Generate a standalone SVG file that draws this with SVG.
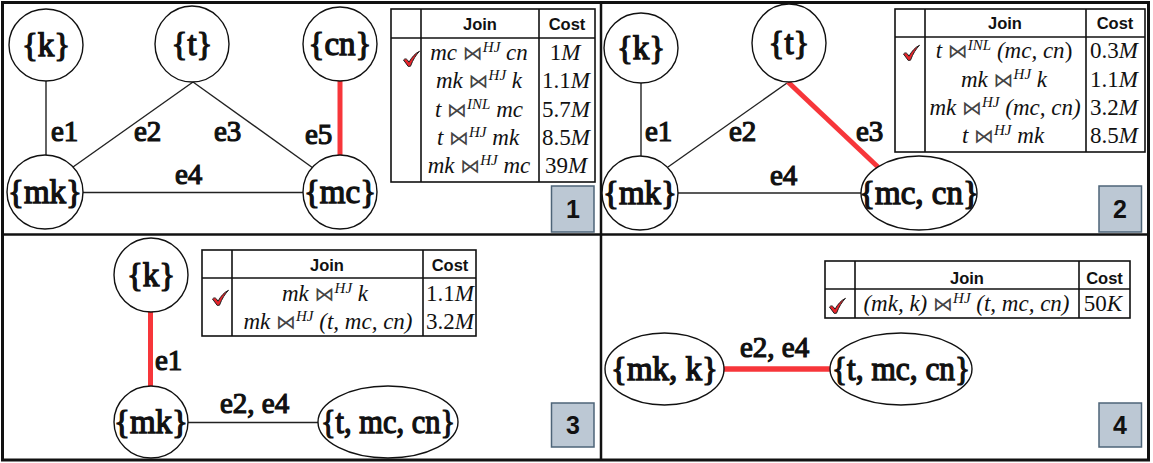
<svg xmlns="http://www.w3.org/2000/svg" width="1153" height="463" viewBox="0 0 1153 463">
<defs>
<style>
.frame{fill:none;stroke:#111;stroke-width:3}
.div{stroke:#111;stroke-width:2.5}
.node{fill:#fff;stroke:#111;stroke-width:1.4}
.nl{font-family:'Liberation Serif','Times New Roman',serif;font-weight:normal;font-size:33px;fill:#111;stroke:#111;stroke-width:1.3;text-anchor:middle}
.el{font-family:'Liberation Serif','Times New Roman',serif;font-weight:normal;font-size:29px;fill:#111;stroke:#111;stroke-width:1.2}
.edge{stroke:#222;stroke-width:1.4;fill:none}
.hot{stroke:#f7363a;stroke-width:5;fill:none}
.tb{fill:#fff;stroke:#111;stroke-width:1.6}
.tl{stroke:#111;stroke-width:1.6}
.th{font-family:'Liberation Sans',Arial,sans-serif;font-weight:bold;font-size:16.5px;fill:#111;text-anchor:middle}
.mx{font-family:'Liberation Serif','Times New Roman',serif;font-style:italic;font-size:23px;fill:#111;text-anchor:middle}
.bt{font-family:'DejaVu Sans',sans-serif;font-style:normal;font-size:20px;fill:#444}
.sp{font-size:15px}
.up{font-style:normal}
.badge{fill:#bcc8d4;stroke:#4d6478;stroke-width:1.5}
.bn{font-family:'Liberation Sans',Arial,sans-serif;font-weight:bold;font-size:25px;fill:#111;text-anchor:middle}
.chk{fill:#e8242a;stroke:#222;stroke-width:1;stroke-linejoin:round}
</style>
<path id="check" d="M0.5,9 C1.6,7.6 3.2,7.5 4.3,8.8 L6,11.2 C8.8,6.2 12.2,2.2 16.5,0.3 C13,3.8 10,8.6 7.5,15.2 L5.2,15.4 Z"/>
</defs>
<rect x="0" y="0" width="1153" height="463" fill="#fff"/>

<g id="frame">
<rect class="frame" x="2.5" y="2.5" width="1146" height="457.5"/>
<line class="div" x1="601" y1="2" x2="601" y2="461"/>
<line class="div" x1="2" y1="234.5" x2="1150" y2="234.5"/>
</g>

<g id="connectors">
<line class="edge" x1="46" y1="81" x2="46" y2="155"/>
<line class="edge" x1="73" y1="167" x2="193" y2="82"/>
<line class="edge" x1="193" y1="82" x2="313" y2="168"/>
<line class="edge" x1="83" y1="192.5" x2="303" y2="192.5"/>
<line class="hot" x1="340" y1="81" x2="340" y2="155"/>

<line class="edge" x1="641" y1="83" x2="641" y2="156"/>
<line class="edge" x1="668" y1="167" x2="787" y2="83"/>
<line class="hot" x1="788" y1="82" x2="878" y2="167"/>
<line class="edge" x1="678" y1="193" x2="861" y2="193"/>

<line class="hot" x1="150.5" y1="311" x2="150.5" y2="386"/>
<line class="edge" x1="188" y1="422.5" x2="318" y2="422.5"/>

<line class="hot" x1="724" y1="369" x2="830" y2="369" style="stroke-width:5.5"/>
</g>

<g id="edge-labels">
<text class="el" x="51" y="141">e1</text>
<text class="el" x="134" y="141">e2</text>
<text class="el" x="214" y="141">e3</text>
<text class="el" x="175" y="184">e4</text>
<text class="el" x="305" y="144">e5</text>
<text class="el" x="645" y="141">e1</text>
<text class="el" x="729" y="141">e2</text>
<text class="el" x="856" y="141">e3</text>
<text class="el" x="770" y="185">e4</text>
<text class="el" x="155" y="370">e1</text>
<text class="el" x="220" y="413">e2, e4</text>
<text class="el" x="740" y="357">e2, e4</text>
</g>

<g id="p1-k"><ellipse class="node" cx="46" cy="45" rx="37" ry="36"/><text class="nl" x="46" y="56">{k}</text></g>
<g id="p1-t"><ellipse class="node" cx="192" cy="44" rx="37" ry="38"/><text class="nl" x="192" y="55">{t}</text></g>
<g id="p1-cn"><ellipse class="node" cx="340" cy="44" rx="37" ry="37"/><text class="nl" x="340" y="55">{cn}</text></g>
<g id="p1-mk"><ellipse class="node" cx="45" cy="192" rx="38" ry="37"/><text class="nl" x="45" y="203">{mk}</text></g>
<g id="p1-mc"><ellipse class="node" cx="340" cy="192" rx="37" ry="37"/><text class="nl" x="340" y="203">{mc}</text></g>

<g id="p2-k"><ellipse class="node" cx="641" cy="48" rx="37" ry="35"/><text class="nl" x="641" y="59">{k}</text></g>
<g id="p2-t"><ellipse class="node" cx="789" cy="43" rx="37" ry="39"/><text class="nl" x="789" y="54">{t}</text></g>
<g id="p2-mk"><ellipse class="node" cx="640" cy="193" rx="38" ry="37"/><text class="nl" x="640" y="204">{mk}</text></g>
<g id="p2-mccn"><ellipse class="node" cx="919" cy="193" rx="58" ry="37"/><text class="nl" x="919" y="204">{mc, cn}</text></g>

<g id="p3-k"><ellipse class="node" cx="151" cy="275" rx="37" ry="37"/><text class="nl" x="151" y="286">{k}</text></g>
<g id="p3-mk"><ellipse class="node" cx="151" cy="422" rx="37" ry="36"/><text class="nl" x="151" y="433">{mk}</text></g>
<g id="p3-tmccn"><ellipse class="node" cx="388" cy="422" rx="70" ry="36"/><text class="nl" x="388" y="433" textLength="134" lengthAdjust="spacingAndGlyphs">{t, mc, cn}</text></g>

<g id="p4-mkk"><ellipse class="node" cx="664.5" cy="369" rx="59.5" ry="36"/><text class="nl" x="664.5" y="380">{mk, k}</text></g>
<g id="p4-tmccn"><ellipse class="node" cx="901" cy="369" rx="71" ry="36"/><text class="nl" x="901" y="380" textLength="138" lengthAdjust="spacingAndGlyphs">{t, mc, cn}</text></g>

<g id="table1">
<rect class="tb" x="391" y="9" width="204" height="173"/>
<line class="tl" x1="421" y1="9" x2="421" y2="182"/>
<line class="tl" x1="539" y1="9" x2="539" y2="182"/>
<line class="tl" x1="391" y1="38" x2="595" y2="38"/>
<text class="th" x="480" y="30">Join</text>
<text class="th" x="567" y="30">Cost</text>
<use href="#check" class="chk" x="403" y="51"/>
<text class="mx" x="479" y="60">mc <tspan class="bt">⋈</tspan><tspan class="sp" dy="-8">HJ</tspan><tspan dy="8">  cn</tspan></text>
<text class="mx" x="479" y="88">mk <tspan class="bt">⋈</tspan><tspan class="sp" dy="-8">HJ</tspan><tspan dy="8">  k</tspan></text>
<text class="mx" x="479" y="117">t <tspan class="bt">⋈</tspan><tspan class="sp" dy="-8">INL</tspan><tspan dy="8">  mc</tspan></text>
<text class="mx" x="478" y="145">t <tspan class="bt">⋈</tspan><tspan class="sp" dy="-8">HJ</tspan><tspan dy="8">  mk</tspan></text>
<text class="mx" x="479" y="173">mk <tspan class="bt">⋈</tspan><tspan class="sp" dy="-8">HJ</tspan><tspan dy="8">  mc</tspan></text>
<text class="mx" x="565" y="60"><tspan class="up">1</tspan>M</text>
<text class="mx" x="566" y="88"><tspan class="up">1.1</tspan>M</text>
<text class="mx" x="566" y="117"><tspan class="up">5.7</tspan>M</text>
<text class="mx" x="566" y="145"><tspan class="up">8.5</tspan>M</text>
<text class="mx" x="566" y="173"><tspan class="up">39</tspan>M</text>
</g>

<g id="table2">
<rect class="tb" x="895" y="9" width="250" height="143"/>
<line class="tl" x1="925" y1="9" x2="925" y2="152"/>
<line class="tl" x1="1086" y1="9" x2="1086" y2="152"/>
<line class="tl" x1="895" y1="37" x2="1145" y2="37"/>
<text class="th" x="1005" y="29">Join</text>
<text class="th" x="1115" y="29">Cost</text>
<use href="#check" class="chk" x="903" y="45"/>
<text class="mx" x="1004" y="58">t <tspan class="bt">⋈</tspan><tspan class="sp" dy="-8">INL</tspan><tspan dy="8">  (</tspan><tspan>mc, cn</tspan><tspan class="up">)</tspan></text>
<text class="mx" x="1004" y="87">mk <tspan class="bt">⋈</tspan><tspan class="sp" dy="-8">HJ</tspan><tspan dy="8">  k</tspan></text>
<text class="mx" x="1005" y="115">mk <tspan class="bt">⋈</tspan><tspan class="sp" dy="-8">HJ</tspan><tspan dy="8">  (mc, cn)</tspan></text>
<text class="mx" x="1003" y="143">t <tspan class="bt">⋈</tspan><tspan class="sp" dy="-8">HJ</tspan><tspan dy="8">  mk</tspan></text>
<text class="mx" x="1114" y="58"><tspan class="up">0.3</tspan>M</text>
<text class="mx" x="1114" y="87"><tspan class="up">1.1</tspan>M</text>
<text class="mx" x="1114" y="115"><tspan class="up">3.2</tspan>M</text>
<text class="mx" x="1114" y="143"><tspan class="up">8.5</tspan>M</text>
</g>

<g id="table3">
<rect class="tb" x="202" y="250" width="274" height="86"/>
<line class="tl" x1="232" y1="250" x2="232" y2="336"/>
<line class="tl" x1="423" y1="250" x2="423" y2="336"/>
<line class="tl" x1="202" y1="278" x2="476" y2="278"/>
<text class="th" x="327" y="271">Join</text>
<text class="th" x="450" y="271">Cost</text>
<use href="#check" class="chk" x="212" y="290"/>
<text class="mx" x="325" y="301">mk <tspan class="bt">⋈</tspan><tspan class="sp" dy="-8">HJ</tspan><tspan dy="8">  k</tspan></text>
<text class="mx" x="328" y="329">mk <tspan class="bt">⋈</tspan><tspan class="sp" dy="-8">HJ</tspan><tspan dy="8">  (t, mc, cn)</tspan></text>
<text class="mx" x="450" y="301"><tspan class="up">1.1</tspan>M</text>
<text class="mx" x="450" y="329"><tspan class="up">3.2</tspan>M</text>
</g>

<g id="table4">
<rect class="tb" x="825" y="261" width="305" height="57"/>
<line class="tl" x1="855" y1="261" x2="855" y2="318"/>
<line class="tl" x1="1079" y1="261" x2="1079" y2="318"/>
<line class="tl" x1="825" y1="289" x2="1130" y2="289"/>
<text class="th" x="967" y="284">Join</text>
<text class="th" x="1104.5" y="284">Cost</text>
<use href="#check" class="chk" x="829" y="298"/>
<text class="mx" x="966.5" y="311">(mk, k) <tspan class="bt">⋈</tspan><tspan class="sp" dy="-8">HJ</tspan><tspan dy="8">  (t, mc, cn)</tspan></text>
<text class="mx" x="1103" y="311"><tspan class="up">50</tspan>K</text>
</g>

<g id="badge1"><rect class="badge" x="551.5" y="186" width="42.5" height="46"/><text class="bn" x="573" y="218">1</text></g>
<g id="badge2"><rect class="badge" x="1099" y="186" width="42.5" height="46"/><text class="bn" x="1120" y="218">2</text></g>
<g id="badge3"><rect class="badge" x="551.5" y="403" width="42.5" height="44"/><text class="bn" x="573" y="434">3</text></g>
<g id="badge4"><rect class="badge" x="1099" y="403" width="42.5" height="44"/><text class="bn" x="1120" y="434">4</text></g>
</svg>
